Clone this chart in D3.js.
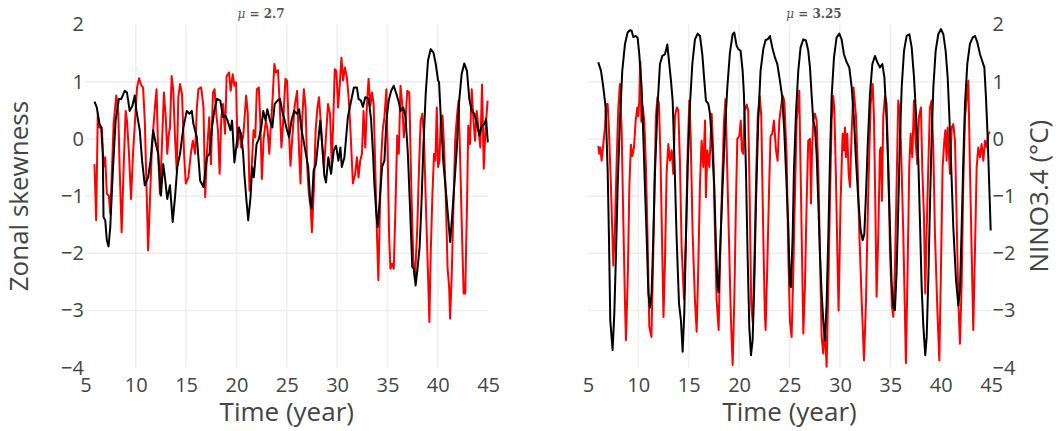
<!DOCTYPE html>
<html>
<head>
<meta charset="utf-8">
<script src="https://cdn.jsdelivr.net/npm/d3@7"></script>
<style>
  body { margin: 0; background: #fff; }
  svg { display: block; }
</style>
</head>
<body>
<script>
// Data: [time (year), value]
// red = zonal skewness, black = NINO3.4
var skewLeft = [[5.9,-0.44],[6.07,-1.42],[6.23,0.44],[6.4,0.2],[6.63,0.2],[6.8,-0.49],[6.97,-0.32],[7.13,-0.96],[7.33,-0.99],[7.47,-1.31],[7.67,-0.38],[7.8,0.26],[8.07,0.76],[8.27,0.44],[8.4,-0.49],[8.6,-1.63],[8.8,-0.49],[9.0,0.49],[9.13,0.32],[9.33,-0.26],[9.53,-1.05],[9.73,-0.26],[9.93,0.32],[10.13,0.9],[10.33,1.06],[10.57,0.93],[10.73,0.9],[10.9,0.32],[11.07,-0.84],[11.23,-1.95],[11.4,-1.13],[11.57,-0.32],[11.73,0.15],[11.93,0.61],[12.07,0.87],[12.23,-0.26],[12.4,-0.96],[12.57,-0.26],[12.8,0.81],[13.0,0.32],[13.13,-0.26],[13.27,0.06],[13.4,0.2],[13.57,1.1],[13.73,0.84],[13.9,0.03],[14.07,-0.55],[14.23,0.73],[14.4,0.96],[14.6,0.78],[14.8,-0.26],[14.97,-0.78],[15.23,-0.67],[15.47,-0.26],[15.67,-0.03],[15.9,-0.26],[16.07,0.55],[16.23,0.87],[16.5,0.9],[16.73,0.55],[16.9,-1.02],[17.07,-0.26],[17.3,0.38],[17.47,-0.44],[17.67,0.81],[17.83,0.87],[18.0,0.44],[18.17,0.15],[18.33,-0.61],[18.5,0.38],[18.67,0.61],[18.87,0.09],[19.03,1.1],[19.27,1.16],[19.43,0.84],[19.63,1.13],[19.8,0.93],[19.97,0.99],[20.1,-0.15],[20.27,0.2],[20.47,-0.15],[20.7,0.09],[20.97,0.76],[21.13,0.44],[21.3,-0.9],[21.47,-0.67],[21.7,0.15],[21.87,0.03],[22.03,0.87],[22.23,0.9],[22.37,0.32],[22.53,-0.7],[22.7,0],[22.93,0.32],[23.1,0.15],[23.27,-0.26],[23.37,0.09],[23.6,0.73],[23.77,1.31],[23.93,1.16],[24.13,1.2],[24.3,0.61],[24.47,-0.15],[24.63,0.26],[24.87,1.05],[25.03,1.02],[25.2,0.2],[25.37,-0.47],[25.53,-0.03],[25.77,0.55],[26.03,0.84],[26.23,-0.26],[26.37,-0.78],[26.53,0.32],[26.7,0.87],[26.87,0.55],[27.03,-0.49],[27.2,-0.96],[27.37,-1.19],[27.5,-1.63],[27.7,-0.84],[27.87,0.15],[28.03,0.52],[28.2,0.73],[28.37,0.32],[28.53,-0.15],[28.7,-0.52],[28.87,-0.03],[29.1,0.61],[29.3,0.44],[29.47,-0.44],[29.63,0.38],[29.77,1.22],[29.93,1.19],[30.1,0.55],[30.27,0.96],[30.43,1.42],[30.6,1.02],[30.77,1.25],[30.97,1.08],[31.13,0.76],[31.3,0.26],[31.57,-0.78],[31.8,-0.61],[31.97,-0.32],[32.13,-0.67],[32.3,-0.38],[32.47,-0.26],[32.63,0.49],[32.8,-0.15],[32.97,0.61],[33.13,1.05],[33.3,0.58],[33.47,0.81],[33.63,0.61],[33.8,-0.55],[33.97,-1.72],[34.1,-2.47],[34.23,-1.42],[34.37,-0.38],[34.53,0.15],[34.7,0.38],[34.9,0.87],[35.03,-0.26],[35.17,-1.72],[35.3,-2.27],[35.47,-2.18],[35.63,-2.27],[35.8,-1.19],[35.97,0.06],[36.13,-0.26],[36.3,0.93],[36.47,0.61],[36.63,0.03],[36.8,0.32],[36.97,0.84],[37.17,0.81],[37.37,-0.84],[37.57,-2.12],[37.73,-2.47],[37.97,-1.54],[38.13,-0.55],[38.3,0.32],[38.47,0.44],[38.63,0.03],[38.8,-1.02],[38.97,-2.0],[39.17,-3.2],[39.3,-2.0],[39.47,-0.96],[39.63,-0.26],[39.77,-0.38],[39.9,0.55],[40.03,-0.49],[40.17,-0.38],[40.3,0.38],[40.47,0.41],[40.63,-0.15],[40.8,-1.02],[40.97,-2.24],[41.13,-2.59],[41.23,-3.14],[41.4,-2.3],[41.57,-1.08],[41.73,-0.03],[41.9,0.38],[42.07,0.67],[42.23,-0.38],[42.4,-1.6],[42.57,-2.7],[42.73,-2.7],[42.9,-1.19],[43.03,0.23],[43.2,-0.09],[43.37,0.87],[43.53,0.38],[43.7,-0.03],[43.87,0.49],[44.03,0.2],[44.23,-0.15],[44.4,0.95],[44.57,-0.52],[44.73,0.15],[44.95,0.67]];

var ninoLeft = [[5.9,0.65],[6.13,0.55],[6.4,0.26],[6.57,0.2],[6.73,-0.26],[6.8,-1.37],[6.97,-1.42],[7.13,-1.77],[7.3,-1.88],[7.47,-1.54],[7.73,-0.55],[8.0,0.32],[8.33,0.7],[8.57,0.7],[8.9,0.84],[9.13,0.81],[9.4,0.49],[9.67,0.58],[9.9,0.76],[10.07,0.49],[10.4,0.15],[10.63,-0.38],[10.9,-0.81],[11.23,-0.67],[11.47,-0.38],[11.73,0.15],[12.0,-0.09],[12.23,-0.26],[12.5,-0.99],[12.73,-0.44],[12.9,-0.67],[13.13,-1.05],[13.4,-0.81],[13.67,-1.45],[13.9,-1.02],[14.13,-0.49],[14.4,-0.26],[14.73,0.2],[15.07,0.49],[15.33,0.44],[15.57,0.49],[15.73,0.26],[16.07,0.03],[16.4,-0.73],[16.73,-0.84],[17.07,-0.32],[17.33,-0.26],[17.57,0.2],[17.8,0.49],[18.07,0.7],[18.4,0.67],[18.67,0.38],[18.9,0.41],[19.13,0.32],[19.4,0.15],[19.57,0.32],[19.8,-0.41],[20.0,-0.12],[20.23,0.2],[20.47,0.09],[20.67,-0.26],[20.8,-0.64],[21.0,-1.08],[21.17,-1.42],[21.4,-1.02],[21.57,-0.49],[21.73,-0.67],[22.0,-0.09],[22.23,0],[22.47,0.2],[22.67,0.49],[22.9,0.32],[23.07,0.52],[23.33,0.32],[23.57,0.2],[23.8,0.61],[24.07,0.67],[24.33,0.7],[24.57,0.47],[24.8,0.32],[25.0,0.17],[25.23,0.03],[25.47,0.32],[25.73,0.49],[26.0,0.44],[26.23,0.52],[26.47,0.15],[26.67,-0.03],[26.9,-0.26],[27.13,-0.49],[27.33,-1.08],[27.47,-1.22],[27.67,-0.55],[27.9,-0.44],[28.13,-0.03],[28.33,0.32],[28.57,-0.2],[28.73,-0.64],[28.9,-0.76],[29.13,-0.32],[29.4,-0.61],[29.67,-0.2],[29.9,-0.12],[30.13,-0.38],[30.33,-0.15],[30.47,-0.49],[30.73,-0.32],[31.07,0.38],[31.33,0.61],[31.67,0.9],[31.97,0.9],[32.13,0.7],[32.37,0.67],[32.57,0.56],[32.8,0.73],[33.13,0.7],[33.37,0.35],[33.57,-0.26],[33.7,-0.78],[33.9,-1.31],[34.03,-1.54],[34.23,-1.08],[34.47,-0.49],[34.7,-0.38],[34.9,0.32],[35.13,0.67],[35.37,0.84],[35.63,0.93],[35.9,0.78],[36.13,0.64],[36.3,0.49],[36.57,0.55],[36.8,0.38],[37.03,-0.26],[37.23,-1.13],[37.47,-2.24],[37.63,-2.27],[37.8,-2.56],[37.97,-2.3],[38.2,-1.89],[38.37,-1.19],[38.57,-0.15],[38.8,0.78],[39.03,1.37],[39.3,1.57],[39.57,1.51],[39.8,1.31],[40.03,1.02],[40.13,0.99],[40.3,0.38],[40.57,-0.44],[40.8,-0.9],[41.03,-1.37],[41.23,-1.8],[41.4,-1.42],[41.63,-0.84],[41.9,-0.15],[42.13,0.67],[42.37,1.13],[42.63,1.32],[42.9,1.19],[43.13,0.7],[43.37,0.49],[43.63,0.44],[43.9,0.26],[44.13,0.06],[44.37,0.23],[44.63,0.26],[44.8,0.35],[44.97,-0.06]];

var skewRight = [[6.03,-0.12],[6.13,-0.26],[6.23,-0.15],[6.36,-0.38],[6.53,-0.09],[6.69,0.2],[6.8,0.61],[6.96,0.61],[7.09,0.15],[7.29,-0.84],[7.52,-2.21],[7.69,-1.5],[7.85,-0.4],[8.02,0.55],[8.18,0.96],[8.35,0.15],[8.51,-1.4],[8.68,-2.88],[8.78,-3.52],[8.97,-2.3],[9.11,-0.84],[9.27,-0.1],[9.41,-0.3],[9.57,-0.15],[9.74,0.32],[9.9,0.55],[10.0,0.4],[10.1,0.67],[10.2,1.35],[10.3,0.3],[10.43,0.58],[10.6,0.3],[10.76,-0.5],[10.93,-1.8],[11.09,-3.28],[11.3,-3.46],[11.45,-2.3],[11.6,-0.84],[11.75,0.4],[11.9,0.73],[12.05,0.61],[12.2,-0.3],[12.38,-2.0],[12.5,-3.11],[12.65,-2.1],[12.81,-0.6],[12.98,-0.09],[13.14,-0.38],[13.31,-0.2],[13.47,-0.61],[13.64,0.4],[13.82,0.55],[13.97,0.5],[14.13,-0.4],[14.3,-1.9],[14.53,-2.8],[14.73,-1.66],[14.9,-0.2],[15.06,0.67],[15.19,0.09],[15.39,-1.66],[15.62,-2.82],[15.79,-3.37],[15.95,-2.24],[16.12,-0.78],[16.28,-0.03],[16.45,-0.49],[16.62,0.32],[16.71,-1.02],[16.85,-0.2],[17.05,-0.49],[17.28,0.44],[17.44,-0.26],[17.61,-1.66],[17.77,-2.82],[17.97,-3.34],[18.1,-2.24],[18.27,-1.08],[18.5,0.3],[18.65,0.7],[18.82,-0.5],[19.0,-1.8],[19.18,-3.1],[19.36,-3.95],[19.52,-2.85],[19.69,-1.1],[19.82,0],[20.02,0.05],[20.17,0.32],[20.27,-0.2],[20.41,-0.26],[20.55,0.5],[20.75,0.6],[20.9,0.5],[21.05,-1.0],[21.2,-2.9],[21.35,-3.2],[21.52,-2.1],[21.7,-0.6],[21.85,0.4],[22.05,0.75],[22.2,0.4],[22.38,-1.5],[22.55,-3.05],[22.63,-3.34],[22.8,-2.2],[22.97,-0.9],[23.12,0.05],[23.29,0.09],[23.46,0.32],[23.66,-0.2],[23.82,-0.38],[23.99,0.32],[24.15,0.55],[24.32,0.76],[24.48,0.67],[24.71,-0.26],[24.88,-2.0],[25.04,-3.17],[25.21,-3.46],[25.38,-2.3],[25.54,-0.96],[25.71,0.32],[25.87,0.61],[25.97,0.84],[26.1,-0.55],[26.24,-2.0],[26.37,-3.4],[26.53,-2.59],[26.7,-1.13],[26.86,-0.03],[27.03,0],[27.13,-1.13],[27.23,-0.26],[27.36,0.32],[27.52,0.44],[27.69,0.32],[27.86,-0.55],[28.02,-2.0],[28.19,-3.46],[28.35,-3.75],[28.5,-3.3],[28.68,-3.98],[28.85,-2.59],[29.01,-1.13],[29.18,0.32],[29.34,0.75],[29.45,0.5],[29.6,-0.6],[29.75,-2.0],[29.87,-3.0],[30.07,-1.08],[30.27,0.09],[30.4,-0.2],[30.5,0.2],[30.6,-0.32],[30.73,0.09],[30.87,-0.61],[31.0,-0.84],[31.16,0.09],[31.35,0.9],[31.6,0.38],[31.76,-0.49],[31.93,-1.66],[32.16,-2.82],[32.39,-3.87],[32.59,-2.82],[32.72,-1.66],[32.88,-0.49],[33.05,0.61],[33.25,0.96],[33.38,0.38],[33.51,-1.08],[33.64,-2.76],[33.81,-1.66],[33.97,-0.2],[34.07,-0.15],[34.17,-1.08],[34.3,0.38],[34.47,0.75],[34.64,0.61],[34.8,-0.49],[34.97,-1.95],[35.17,-2.94],[35.3,-3.11],[35.46,-2.24],[35.63,-0.78],[35.79,0.67],[35.96,0.44],[36.12,-0.49],[36.29,-1.66],[36.55,-3.92],[36.72,-2.24],[36.88,-0.49],[37.02,0.09],[37.18,-0.32],[37.35,0.67],[37.51,-0.03],[37.68,-0.44],[37.84,0.38],[38.04,0.55],[38.17,-0.49],[38.34,-1.37],[38.47,-2.7],[38.6,-1.66],[38.77,-0.49],[38.93,0.55],[39.1,0.67],[39.27,-0.2],[39.43,-1.66],[39.66,-2.94],[39.86,-3.87],[40.03,-2.24],[40.19,-0.49],[40.36,-0.03],[40.46,0.15],[40.59,-0.38],[40.69,0.2],[40.82,-0.26],[40.92,-0.61],[41.09,0.2],[41.25,0.26],[41.42,-0.03],[41.58,-1.37],[41.75,-2.82],[41.91,-3.58],[42.08,-2.53],[42.24,-0.78],[42.41,0.38],[42.57,0.67],[42.74,1.02],[42.9,-0.49],[43.07,-1.95],[43.23,-3.34],[43.4,-1.95],[43.57,-0.49],[43.73,-0.15],[43.9,-0.32],[44.06,-0.09],[44.23,-0.38],[44.39,-0.03],[44.56,-0.15],[44.72,0.09],[44.89,0.12]];

var ninoRight = [[6.03,1.34],[6.3,1.19],[6.53,0.9],[6.76,0.55],[6.96,-0.55],[7.09,-1.72],[7.22,-3.17],[7.45,-3.69],[7.62,-3.05],[7.79,-2.0],[7.95,-0.84],[8.18,0.32],[8.41,1.19],[8.68,1.66],[8.94,1.86],[9.17,1.9],[9.34,1.89],[9.5,1.78],[9.74,1.8],[9.93,1.77],[10.1,1.48],[10.33,0.9],[10.5,0.03],[10.66,-0.84],[10.83,-1.72],[11.0,-2.7],[11.16,-2.95],[11.32,-2.7],[11.49,-1.72],[11.65,-0.61],[11.92,0.61],[12.15,1.31],[12.38,1.45],[12.65,1.48],[12.88,1.65],[13.04,1.37],[13.24,1.02],[13.41,0.67],[13.57,-0.26],[13.8,-1.72],[14.04,-2.88],[14.23,-3.17],[14.4,-3.72],[14.56,-3.05],[14.73,-1.72],[14.9,-0.49],[15.13,0.61],[15.36,1.31],[15.62,1.74],[15.89,1.84],[16.12,1.8],[16.35,1.48],[16.55,1.02],[16.71,0.67],[16.95,0.61],[17.11,0.44],[17.34,-0.15],[17.54,-0.84],[17.71,-1.9],[17.87,-2.6],[17.97,-2.68],[18.1,-2.0],[18.36,-0.84],[18.6,0.15],[18.83,0.9],[19.09,1.51],[19.36,1.83],[19.52,1.86],[19.75,1.63],[19.92,1.57],[20.15,1.54],[20.35,1.19],[20.48,0.78],[20.68,-0.55],[20.84,-2.0],[21.01,-3.28],[21.18,-3.78],[21.34,-3.52],[21.5,-2.59],[21.67,-1.13],[21.9,0.32],[22.13,1.19],[22.4,1.57],[22.63,1.73],[22.83,1.74],[23.06,1.8],[23.29,1.6],[23.56,1.42],[23.79,1.31],[24.05,1.02],[24.28,0.73],[24.48,0.15],[24.65,-0.55],[24.88,-1.54],[25.04,-2.53],[25.14,-2.59],[25.31,-1.72],[25.44,-0.55],[25.64,0.44],[25.87,1.19],[26.1,1.6],[26.37,1.74],[26.63,1.72],[26.86,1.54],[27.03,1.25],[27.19,0.78],[27.36,0.32],[27.52,0.2],[27.69,-0.26],[27.86,-1.13],[28.02,-2.0],[28.19,-2.7],[28.35,-3.17],[28.52,-3.52],[28.68,-2.88],[28.85,-1.72],[29.01,-0.38],[29.18,0.73],[29.41,1.42],[29.67,1.77],[29.94,1.84],[30.17,1.74],[30.4,1.48],[30.67,1.34],[30.93,1.25],[31.17,0.9],[31.4,0.32],[31.6,-0.38],[31.83,-1.08],[32.06,-1.6],[32.26,-1.77],[32.42,-1.66],[32.59,-0.96],[32.75,-0.15],[32.98,0.78],[33.22,1.31],[33.48,1.45],[33.71,1.34],[33.98,1.25],[34.21,1.31],[34.41,1.08],[34.64,0.32],[34.8,-0.55],[34.97,-1.54],[35.13,-2.53],[35.3,-2.94],[35.46,-2.99],[35.63,-2.3],[35.8,-1.13],[35.96,0.03],[36.13,0.9],[36.36,1.54],[36.62,1.8],[36.89,1.83],[37.12,1.6],[37.35,1.08],[37.55,0.44],[37.78,-0.38],[37.94,-1.42],[38.11,-2.59],[38.28,-3.28],[38.47,-3.78],[38.61,-3.46],[38.77,-2.47],[38.94,-1.13],[39.1,0.03],[39.27,0.9],[39.5,1.54],[39.76,1.83],[40.03,1.92],[40.26,1.83],[40.49,1.54],[40.69,1.08],[40.85,0.44],[41.02,-0.38],[41.25,-1.54],[41.52,-2.47],[41.75,-2.91],[41.91,-2.65],[42.08,-1.54],[42.24,-0.38],[42.41,0.61],[42.64,1.31],[42.9,1.66],[43.17,1.77],[43.4,1.8],[43.63,1.69],[43.9,1.48],[44.16,1.34],[44.33,1.25],[44.49,0.73],[44.66,0.03],[44.82,-0.84],[44.96,-1.6]];

var xTicks = [5, 10, 15, 20, 25, 30, 35, 40, 45];
var yTicks = [-4, -3, -2, -1, 0, 1, 2];
var panelTitles = ["2.7", "3.25"];

var W = 1056, H = 431;
var font = "'Open Sans', 'Noto Sans', sans-serif";
var textColor = "#444";
var fmt = d3.format("d");

var svg = d3.select("body").append("svg")
    .attr("width", W)
    .attr("height", H)
    .style("background", "#fff");

var y = d3.scaleLinear().domain([-4, 2]).range([367.8, 24.5]);
var xLeft = d3.scaleLinear().domain([5, 45]).range([85.4, 488.1]);
var xRight = d3.scaleLinear().domain([5, 45]).range([587.9, 991.1]);

function drawPanel(x, skew, nino, side, title, titleX) {
    var g = svg.append("g");

    // grid
    g.append("g").selectAll("line")
        .data(xTicks.filter(d => d > 5 && d < 45))
        .enter().append("line")
        .attr("x1", d => x(d)).attr("x2", d => x(d))
        .attr("y1", y(2)).attr("y2", y(-4))
        .attr("stroke", "#eeeeee")
        .attr("stroke-width", 1.5);

    g.append("g").selectAll("line")
        .data(yTicks.filter(d => d > -4 && d < 2))
        .enter().append("line")
        .attr("x1", x(5)).attr("x2", x(45))
        .attr("y1", d => y(d)).attr("y2", d => y(d))
        .attr("stroke", "#eeeeee")
        .attr("stroke-width", 1.5);

    var line = d3.line()
        .x(d => x(d[0]))
        .y(d => y(d[1]));

    g.append("path")
        .datum(skew)
        .attr("fill", "none")
        .attr("stroke", "#ff0000")
        .attr("stroke-width", 2)
        .attr("stroke-linejoin", "round")
        .attr("d", line);

    g.append("path")
        .datum(nino)
        .attr("fill", "none")
        .attr("stroke", "#000")
        .attr("stroke-width", 2)
        .attr("stroke-linejoin", "round")
        .attr("d", line);

    // x axis
    var xa = g.append("g")
        .attr("transform", "translate(0," + y(-4) + ")")
        .call(d3.axisBottom(x).tickValues(xTicks).tickFormat(fmt).tickSize(0).tickPadding(10));
    xa.select(".domain").remove();
    xa.selectAll("text")
        .style("font-family", font)
        .style("font-size", "20px")
        .attr("fill", textColor);

    // y axis
    var ya;
    if (side === "left") {
        ya = g.append("g")
            .attr("transform", "translate(" + x(5) + ",0)")
            .call(d3.axisLeft(y).tickValues(yTicks).tickFormat(fmt).tickSize(0).tickPadding(1.5));
    } else {
        ya = g.append("g")
            .attr("transform", "translate(" + x(45) + ",0)")
            .call(d3.axisRight(y).tickValues(yTicks).tickFormat(fmt).tickSize(0).tickPadding(1.5));
    }
    ya.select(".domain").remove();
    ya.selectAll("text")
        .style("font-family", font)
        .style("font-size", "20px")
        .attr("fill", textColor);

    // x axis title
    g.append("text")
        .attr("x", (x(5) + x(45)) / 2)
        .attr("y", 421)
        .attr("text-anchor", "middle")
        .style("font-family", font)
        .style("font-size", "26px")
        .attr("fill", textColor)
        .text("Time (year)");

    // panel title
    var t = g.append("text")
        .attr("x", titleX)
        .attr("y", 18)
        .attr("text-anchor", "middle")
        .style("font-family", "'DejaVu Serif', serif")
        .style("font-size", "12px")
        .style("font-weight", "bold")
        .attr("fill", "#555");
    t.append("tspan").style("font-style", "italic").style("font-weight", "normal").text("μ");
    t.append("tspan").text(" = " + title);
}

drawPanel(xLeft, skewLeft, ninoLeft, "left", panelTitles[0], 261);
drawPanel(xRight, skewRight, ninoRight, "right", panelTitles[1], 814);

// y axis titles
svg.append("text")
    .attr("transform", "translate(28," + y(-1) + ") rotate(-90)")
    .attr("text-anchor", "middle")
    .style("font-family", font)
    .style("font-size", "26px")
    .attr("fill", textColor)
    .text("Zonal skewness");

svg.append("text")
    .attr("transform", "translate(1048," + y(-1) + ") rotate(-90)")
    .attr("text-anchor", "middle")
    .style("font-family", font)
    .style("font-size", "26px")
    .attr("fill", textColor)
    .text("NINO3.4 (°C)");
</script>
</body>
</html>
